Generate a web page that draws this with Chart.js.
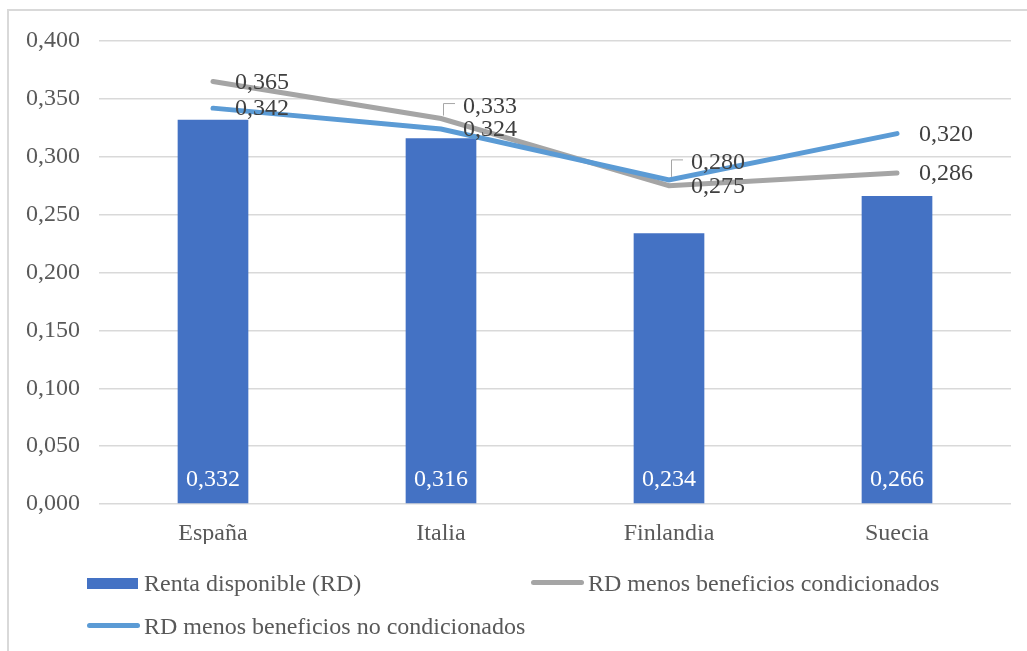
<!DOCTYPE html>
<html>
<head>
<meta charset="utf-8">
<script src="https://cdn.jsdelivr.net/npm/chart.js@4.4.0/dist/chart.umd.min.js"></script>
<style>
  html, body { margin: 0; padding: 0; background: #fff; overflow: hidden; }
  #wrap { position: relative; width: 1027px; height: 651px; overflow: hidden; }
  #frame { position: absolute; left: 7px; top: 9px; width: 1200px; height: 800px;
           border-left: 2px solid #d9d9d9; border-top: 2px solid #d9d9d9; }
  canvas { position: absolute; left: 0; top: 0; }
  .lg { position: absolute; font-family: 'Liberation Serif', 'Times New Roman', serif;
        font-size: 24px; color: #595959; white-space: nowrap; line-height: 24px; }
  .sw { position: absolute; }
</style>
</head>
<body>
<div id="wrap">
  <div id="frame"></div>
  <canvas id="c" width="1027" height="651"></canvas>
  <div id="legend"></div>
</div>
<script>
const categories = ['España', 'Italia', 'Finlandia', 'Suecia'];
const rentaDisponible = [0.332, 0.316, 0.234, 0.266];
const menosCondicionados = [0.365, 0.333, 0.275, 0.286];
const menosNoCondicionados = [0.342, 0.324, 0.280, 0.320];
const seriesNames = ['Renta disponible (RD)', 'RD menos beneficios condicionados', 'RD menos beneficios no condicionados'];
const yMin = 0, yMax = 0.4, yStep = 0.05;

const FONT = "'Liberation Serif', 'Times New Roman', serif";
const fmt = v => v.toFixed(3).replace('.', ',');

// label vertical shifts (px) for the two line series; shifted labels get a leader line
const labelShift = { 1: [0, -13, 0, 0], 2: [0, 0, -18, 0] };

const labelPlugin = {
  id: 'labels',
  afterDatasetsDraw(chart) {
    const ctx = chart.ctx;
    ctx.save();
    ctx.font = '24px ' + FONT;
    ctx.textBaseline = 'middle';
    const barMeta = chart.getDatasetMeta(0);
    barMeta.data.forEach((el, i) => {
      ctx.fillStyle = '#ffffff';
      ctx.textAlign = 'center';
      ctx.fillText(fmt(chart.data.datasets[0].data[i]), el.x, el.base - 24);
    });
    [1, 2].forEach(di => {
      const meta = chart.getDatasetMeta(di);
      meta.data.forEach((el, i) => {
        const dy = labelShift[di][i];
        const lx = el.x + 22, ly = el.y + dy;
        if (dy !== 0) {
          ctx.strokeStyle = '#a6a6a6';
          ctx.lineWidth = 1;
          ctx.beginPath();
          ctx.moveTo(el.x + 2.5, el.y - 3);
          ctx.lineTo(el.x + 2.5, ly - 2);
          ctx.lineTo(el.x + 14, ly - 2);
          ctx.stroke();
        }
        ctx.fillStyle = '#404040';
        ctx.textAlign = 'left';
        ctx.fillText(fmt(chart.data.datasets[di].data[i]), lx, ly + 1);
      });
    });
    ctx.restore();
  }
};

const chart = new Chart(document.getElementById('c'), {
  data: {
    labels: categories,
    datasets: [
      { type: 'bar', label: seriesNames[0], data: rentaDisponible, backgroundColor: '#4472c4',
        categoryPercentage: 1, barPercentage: 0.31, order: 2 },
      { type: 'line', label: seriesNames[1], data: menosCondicionados, borderColor: '#a5a5a5',
        borderWidth: 5, pointRadius: 0, tension: 0, order: 1, borderCapStyle: 'round' },
      { type: 'line', label: seriesNames[2], data: menosNoCondicionados, borderColor: '#5b9bd5',
        borderWidth: 5, pointRadius: 0, tension: 0, order: 0, borderCapStyle: 'round' }
    ]
  },
  options: {
    responsive: false,
    animation: false,
    layout: { padding: { left: 0, right: 16, top: 41, bottom: 107 } },
    plugins: { legend: { display: false }, tooltip: { enabled: false } },
    scales: {
      x: {
        grid: { display: false, drawTicks: false },
        border: { display: false },
        ticks: { color: '#595959', font: { family: FONT, size: 24 }, padding: 15 },
        afterFit(s) { s.height = 40; }
      },
      y: {
        min: yMin, max: yMax,
        grid: { color: '#d9d9d9', lineWidth: 1.5, drawTicks: false },
        border: { display: false },
        ticks: { stepSize: yStep, color: '#595959', font: { family: FONT, size: 24 }, padding: 19,
                 callback: v => fmt(v) },
        afterFit(s) { s.width = 99; }
      }
    }
  },
  plugins: [labelPlugin]
});

const legend = document.getElementById('legend');
const items = [
  { name: seriesNames[0], kind: 'box', color: '#4472c4', x: 87, y: 583 },
  { name: seriesNames[1], kind: 'line', color: '#a5a5a5', x: 531, y: 583 },
  { name: seriesNames[2], kind: 'line', color: '#5b9bd5', x: 87, y: 626 }
];
items.forEach(it => {
  const sw = document.createElement('div');
  sw.className = 'sw';
  if (it.kind === 'box') {
    sw.style.cssText = `left:${it.x}px;top:${it.y - 5}px;width:51px;height:11px;background:${it.color};`;
  } else {
    sw.style.cssText = `left:${it.x}px;top:${it.y - 3}px;width:53px;height:5px;border-radius:3px;background:${it.color};`;
  }
  legend.appendChild(sw);
  const t = document.createElement('div');
  t.className = 'lg';
  t.textContent = it.name;
  t.style.left = (it.x + 57) + 'px';
  t.style.top = (it.y - 12) + 'px';
  legend.appendChild(t);
});
</script>
</body>
</html>
